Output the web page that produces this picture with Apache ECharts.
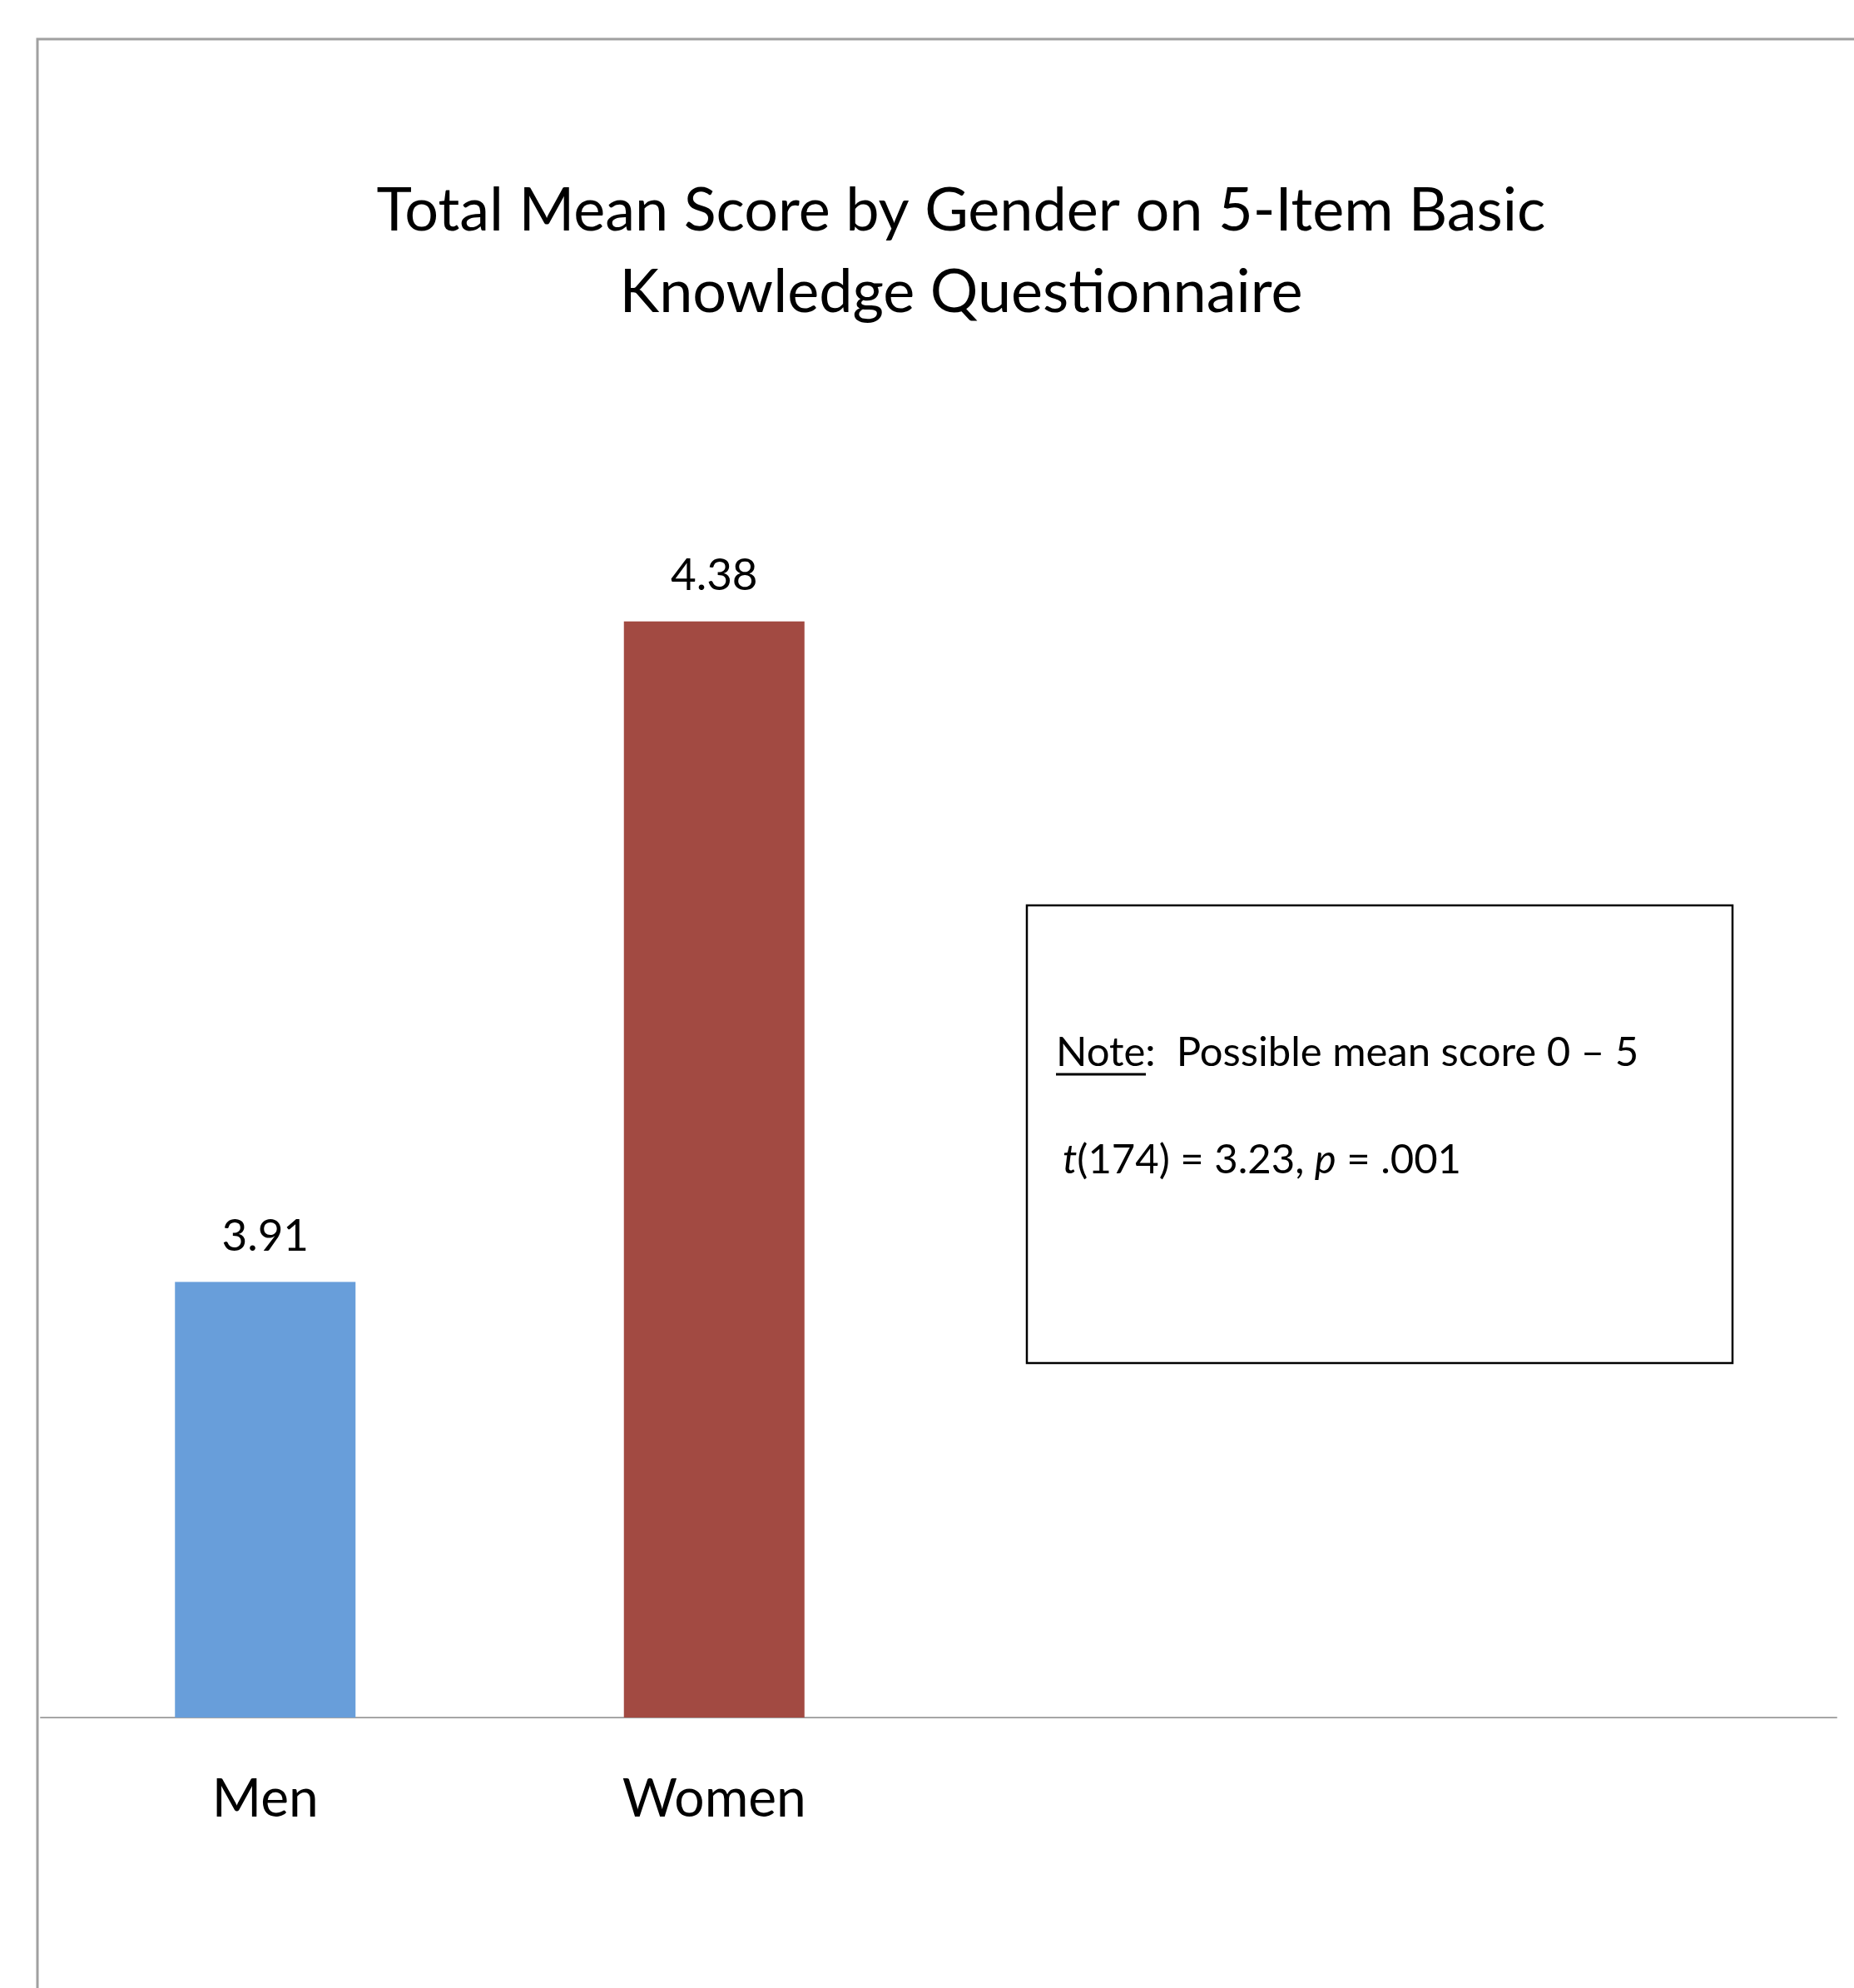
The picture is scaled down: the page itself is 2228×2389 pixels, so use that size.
<!DOCTYPE html>
<html>
<head>
<meta charset="utf-8">
<script src="https://cdn.jsdelivr.net/npm/echarts@6/dist/echarts.min.js"></script>
<style>
html,body{margin:0;padding:0;background:#fff;}
#main{width:2228px;height:2389px;}
</style>
</head>
<body>
<div id="main"></div>
<script>
const categories = ['Men', 'Women'];
const meanScores = [3.91, 4.38];
const titleLines = ['Total Mean Score by Gender on 5-Item Basic', 'Knowledge Questionnaire'];
const barColors = ['#689EDA', '#A24A42'];
const FONT = 'Lato';

const chart = echarts.init(document.getElementById('main'), null, {renderer: 'canvas'});
chart.setOption({
  backgroundColor: '#ffffff',
  animation: false,
  title: {
    text: titleLines.join('\n'),
    left: 1150,
    top: 200,
    textAlign: 'center',
    textStyle: {fontFamily: FONT, fontSize: 72, fontWeight: 'normal', color: '#000', lineHeight: 98}
  },
  grid: {left: 49, right: 21, top: 544, bottom: 325, containLabel: false},
  xAxis: {
    type: 'category',
    data: categories,
    max: 3,
    axisLine: {show: true, lineStyle: {color: '#A6A6A6', width: 2}},
    axisTick: {show: false},
    axisLabel: {fontFamily: FONT, fontSize: 64, color: '#000', margin: 66, interval: 0},
    splitLine: {show: false}
  },
  yAxis: {
    type: 'value',
    min: 3.6,
    max: 4.5,
    show: false
  },
  series: [{
    type: 'bar',
    data: meanScores,
    barWidth: 217,
    itemStyle: {color: p => barColors[p.dataIndex]},
    label: {
      show: true,
      position: 'top',
      distance: 28,
      fontFamily: FONT,
      fontSize: 53,
      color: '#000',
      formatter: p => p.value.toFixed(2)
    }
  }],
  graphic: [
    {type: 'rect', shape: {x: 45, y: 47, width: 2400, height: 2600},
     style: {fill: null, stroke: '#A0A0A0', lineWidth: 3}, silent: true},
    {type: 'rect', shape: {x: 1234, y: 1088, width: 848, height: 550},
     style: {fill: '#fff', stroke: '#000', lineWidth: 2.5}, silent: true},
    {type: 'text', x: 1269, y: 1241,
     style: {
       text: 'Note:  Possible mean score 0 – 5',
       fontFamily: FONT, fontSize: 49, fill: '#000'
     }},
    {type: 'line', shape: {x1: 1269, y1: 1291, x2: 1377, y2: 1291},
     style: {stroke: '#000', lineWidth: 3}},
    {type: 'text', x: 1277, y: 1370,
     style: {
       text: '{i|t}(174) = 3.23, {i|p} = .001',
       fontFamily: FONT, fontSize: 49, fill: '#000',
       rich: {i: {fontFamily: FONT, fontSize: 49, fontStyle: 'italic', fill: '#000'}}
     }}
  ]
});
</script>
</body>
</html>
